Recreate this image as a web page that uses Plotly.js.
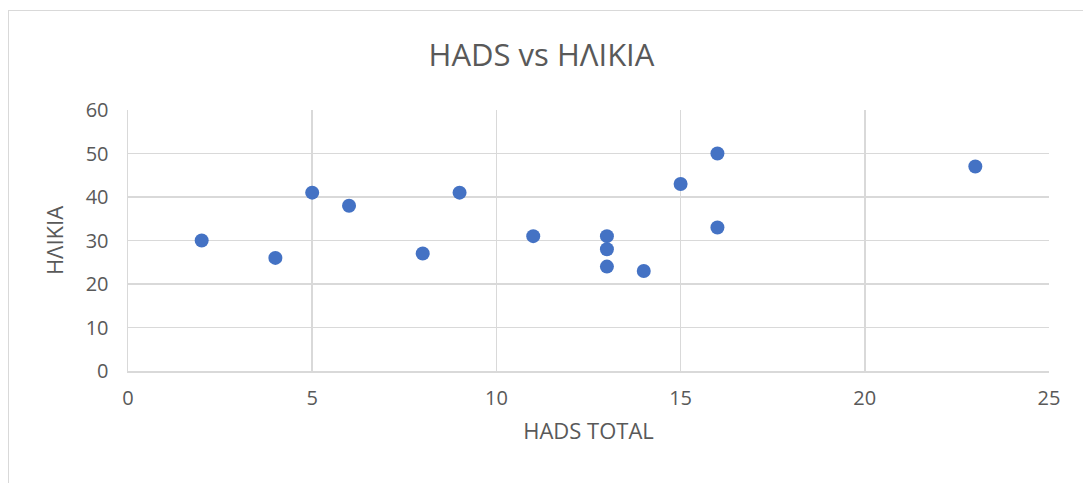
<!DOCTYPE html>
<html><head><meta charset="utf-8">
<script src="https://cdn.plot.ly/plotly-3.0.1.min.js"></script>
<style>body{margin:0;background:#fff}#wrap{position:relative;width:1083px;height:483px}#border{position:absolute;left:8px;top:10px;width:1090px;height:490px;border:1px solid #d9d9d9;pointer-events:none}</style>
</head><body><div id="wrap"><div id="chart" style="width:1083px;height:483px"></div><div id="border"></div></div>
<script>
const hadsTotal = [2, 4, 5, 6, 8, 9, 11, 13, 13, 13, 14, 15, 16, 16, 23];
const age = [30, 26, 41, 38, 27, 41, 31, 31, 28, 24, 23, 43, 50, 33, 47];
const xTicks = [0, 5, 10, 15, 20, 25];
const yTicks = [0, 10, 20, 30, 40, 50, 60];
const font = "'Open Sans', 'DejaVu Sans', sans-serif";
Plotly.newPlot('chart', [{
  x: hadsTotal, y: age, type: 'scatter', mode: 'markers',
  marker: {color: '#4472C4', size: 14}, cliponaxis: false
}], {
  width: 1083, height: 483,
  margin: {l: 128, r: 34, t: 110, b: 112},
  paper_bgcolor: 'rgba(0,0,0,0)', plot_bgcolor: '#fff',
  showlegend: false,
  title: {text: 'HADS vs ΗΛΙΚΙΑ', font: {family: font, size: 31, color: '#595959'}, x: 0.5, xanchor: 'center', y: 0.885, yanchor: 'middle'},
  xaxis: {range: [0, 25], tickvals: xTicks, showgrid: true, gridcolor: '#d9d9d9', gridwidth: 1.5,
    zeroline: false, showline: true, linecolor: '#d9d9d9', linewidth: 1.5, ticks: '', ticklen: 0,
    ticklabelstandoff: 8,
    tickfont: {family: font, size: 20, color: '#595959'},
    title: {text: 'HADS TOTAL', font: {family: font, size: 22, color: '#595959'}, standoff: 14}},
  yaxis: {range: [0, 60], tickvals: yTicks, showgrid: true, gridcolor: '#d9d9d9', gridwidth: 1.5,
    zeroline: false, showline: true, linecolor: '#d9d9d9', linewidth: 1.5, ticks: '', ticklen: 0,
    ticklabelstandoff: 14,
    tickfont: {family: font, size: 20, color: '#595959'},
    title: {text: 'ΗΛΙΚΙΑ', font: {family: font, size: 22, color: '#595959'}, standoff: 16}},
}, {displayModeBar: false, staticPlot: true});
</script></body></html>
